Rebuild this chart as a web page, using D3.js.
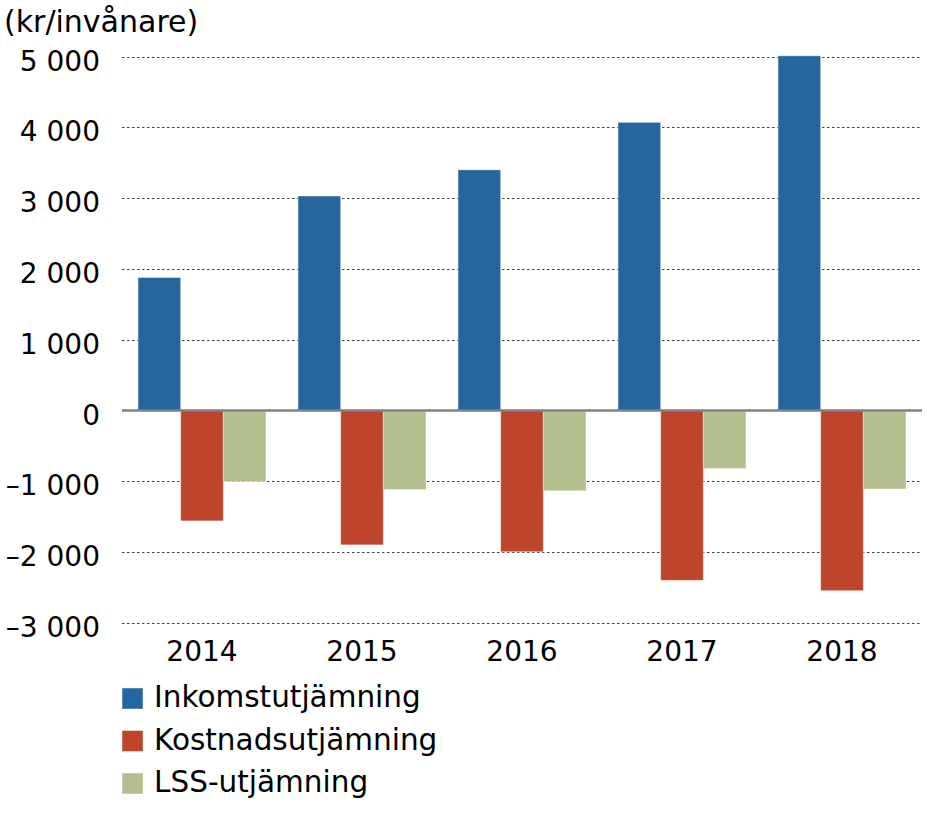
<!DOCTYPE html>
<html><head><meta charset="utf-8">
<script src="https://cdn.jsdelivr.net/npm/d3@7"></script>
<style>body{margin:0;background:#fff}svg{display:block}text{font-family:"DejaVu Sans",Verdana,sans-serif;fill:#000}</style>
</head><body>
<script>
const years = ["2014","2015","2016","2017","2018"];
const seriesNames = ["Inkomstutjämning","Kostnadsutjämning","LSS-utjämning"];
const inkomst = [1879, 3030, 3400, 4070, 5010];
const kostnad = [-1558, -1897, -1994, -2398, -2544];
const lss = [-1003, -1116, -1134, -820, -1108];
const yTicks = [5000,4000,3000,2000,1000,0,-1000,-2000,-3000];
const colors = ["#25669e","#be442c","#b3bf8e"];
const unitLabel = "(kr/invånare)";

const W = 927, H = 813;
const svg = d3.select("body").append("svg").attr("width",W).attr("height",H);
const x = d3.scaleBand().domain(years).range([122,922]).paddingInner(0.2).paddingOuter(0.1);
const xs = d3.scaleBand().domain(seriesNames).range([0,x.bandwidth()]);
const y = d3.scaleLinear().domain([-3000,5000]).range([623,56.5]);
const fmt = v => (v<0?"\u2013":"") + d3.format(",")(Math.abs(v)).replace(/,/g," ");

// gridlines
svg.append("g").selectAll("line").data(yTicks.filter(d=>d!==0)).join("line")
  .attr("x1",122).attr("x2",922).attr("y1",d=>Math.round(y(d))+0.5).attr("y2",d=>Math.round(y(d))+0.5)
  .attr("stroke","#444").attr("stroke-width",1.2).attr("stroke-dasharray","2.5,2.5");

// tick labels
svg.append("g").selectAll("text").data(yTicks).join("text")
  .attr("x",100).attr("y",d=>y(d)+14).attr("text-anchor","end")
  .attr("font-size",28).text(d=>fmt(d));

svg.append("text").attr("x",4).attr("y",32).attr("font-size",30).text(unitLabel);

const data = [inkomst,kostnad,lss];
data.forEach((vals,si)=>{
  svg.append("g").selectAll("rect").data(vals).join("rect")
    .attr("x",(d,i)=>x(years[i])+xs(seriesNames[si]))
    .attr("width",xs.bandwidth())
    .attr("y",d=>y(Math.max(0,d)))
    .attr("height",d=>Math.abs(y(d)-y(0)))
    .attr("fill",colors[si]).attr("stroke","rgba(255,255,255,0.45)").attr("stroke-width",1);
});

// zero line
svg.append("line").attr("x1",122).attr("x2",922).attr("y1",y(0)).attr("y2",y(0))
  .attr("stroke","#808080").attr("stroke-width",2.5);

// x labels
svg.append("g").selectAll("text").data(years).join("text")
  .attr("x",d=>x(d)+x.bandwidth()/2).attr("y",661).attr("text-anchor","middle")
  .attr("font-size",28).text(d=>d);

// legend
const lg = svg.append("g").selectAll("g").data(seriesNames).join("g")
  .attr("transform",(d,i)=>`translate(122,${688+i*42.5})`);
lg.append("rect").attr("width",21).attr("height",21).attr("fill",(d,i)=>colors[i])
  .attr("stroke","rgba(255,255,255,0.45)");
lg.append("text").attr("x",32).attr("y",19).attr("font-size",29.5).text(d=>d);
</script>
</body></html>
